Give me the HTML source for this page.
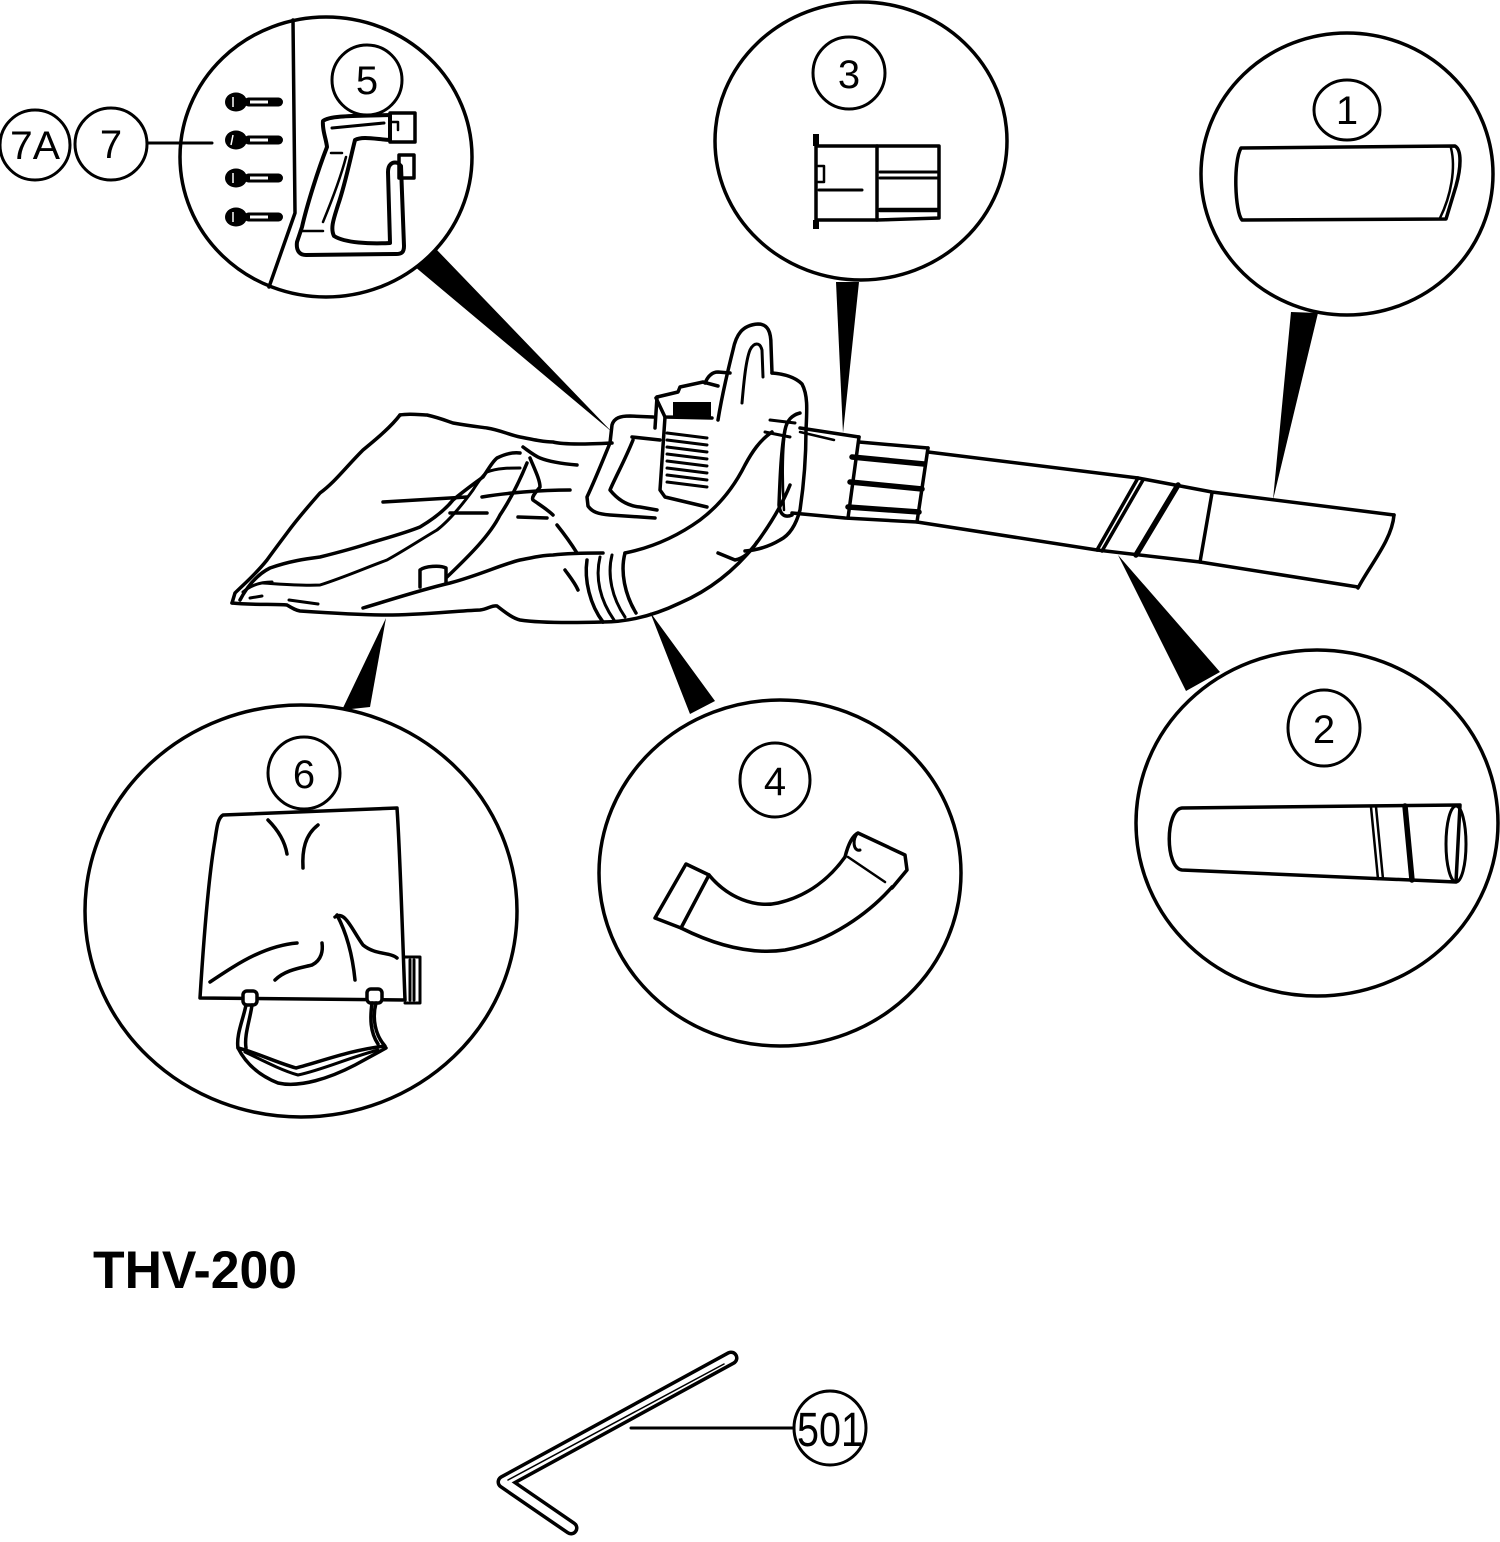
<!DOCTYPE html>
<html><head><meta charset="utf-8"><style>
html,body{margin:0;padding:0;background:#fff;}
svg{display:block;}
text{font-family:"Liberation Sans",Arial,sans-serif;fill:#000;}
</style></head><body>
<svg width="1500" height="1542" viewBox="0 0 1500 1542" xmlns="http://www.w3.org/2000/svg">
<rect width="1500" height="1542" fill="#fff"/>

<!-- pointer wedges -->
<g fill="#000" stroke="none">
<polygon points="414,266 436,249 612,432"/>
<polygon points="836,282 859,282 843,433"/>
<polygon points="1291,312 1318,313 1273,500"/>
<polygon points="1186,691 1220,672 1118,555"/>
<polygon points="690,714 715,701 650,612"/>
<polygon points="342,710 370,707 386,618"/>
</g>

<g fill="none" stroke="#000" stroke-width="3.5" stroke-linejoin="round" stroke-linecap="round">
<!-- big callout circles -->
<ellipse cx="326" cy="157" rx="146" ry="140" fill="#fff"/>
<ellipse cx="861" cy="141" rx="146" ry="139" fill="#fff"/>
<ellipse cx="1347" cy="174" rx="146" ry="141" fill="#fff"/>
<ellipse cx="1317" cy="823" rx="181" ry="173" fill="#fff"/>
<ellipse cx="780" cy="873" rx="181" ry="173" fill="#fff"/>
<ellipse cx="301" cy="911" rx="216" ry="206" fill="#fff"/>

<!-- circle 5 divider -->
<path d="M293,20 L295,213 L269,287"/>

<!-- label circles -->
<g stroke-width="3">
<circle cx="367" cy="80" r="35"/>
<circle cx="35" cy="145" r="35"/>
<circle cx="111" cy="144" r="36"/>
<circle cx="849" cy="73" r="36"/>
<ellipse cx="1347" cy="110" rx="33" ry="30"/>
<ellipse cx="1324" cy="728" rx="36" ry="38"/>
<ellipse cx="775" cy="780" rx="35" ry="37"/>
<circle cx="304" cy="773" r="36"/>
<ellipse cx="830" cy="1428" rx="36" ry="37"/>
</g>
<!-- leader lines -->
<line x1="147" y1="143" x2="212" y2="143" stroke-width="3"/>
<line x1="631" y1="1428" x2="794" y2="1428" stroke-width="3"/>

<!-- gun (part 5) -->
<path d="M323,121 C330,115 360,116 390,115 L390,140 C375,139 362,136 355,140 C350,160 345,185 338,205 C334,218 330,228 334,236 C345,243 370,244 390,243 L388,172 C388,165 392,161 398,163 L401,166 L404,246 C404,252 402,254 396,254 L306,255 C299,255 296,250 297,242 L302,227 C307,205 318,170 327,147 C326,138 322,130 323,121 Z" stroke-width="4"/>
<rect x="390" y="113" width="25" height="29"/>
<rect x="399" y="155" width="15" height="23"/>
<path d="M332,128 L384,123" stroke-width="3"/>
<path d="M346,157 C340,180 330,205 323,222" stroke-width="2.5"/>
<path d="M331,153 L342,153" stroke-width="2.5"/>
<path d="M300,231 L323,231" stroke-width="2.5"/>
<path d="M392,122 L398,122 L398,130" stroke-width="2.5"/>

<!-- part 3 -->
<path d="M816,146 L877,146 L877,220 L816,220 Z"/>
<path d="M877,146 L939,146 L939,218 L877,220"/>
<rect x="813" y="134" width="6" height="12" fill="#000" stroke="none"/>
<rect x="813" y="220" width="6" height="9" fill="#000" stroke="none"/>
<path d="M818,166 L824,166 L824,182 L818,182" stroke-width="2.5"/>
<path d="M819,190 L862,190" stroke-width="3"/>
<path d="M880,172 L938,172 M880,178 L938,178" stroke-width="3"/>
<path d="M880,210 L938,210" stroke-width="4.5"/>

<!-- part 1 -->
<path d="M1241,148 L1455,146 C1462,150 1461,168 1456,186 L1446,219 L1242,220 C1235,212 1233,162 1241,148 Z"/>
<path d="M1451,148 C1456,168 1451,196 1440,218" stroke-width="2.5"/>

<!-- part 2 -->
<path d="M1182,808 L1460,805 L1456,882 L1182,870 C1165,868 1165,810 1182,808 Z"/>
<ellipse cx="1456" cy="844" rx="10" ry="38" stroke-width="3"/>
<path d="M1371,807 L1378,879 M1376,807 L1383,879" stroke-width="2.5"/>
<path d="M1405,806 L1412,880" stroke-width="5.5"/>

<!-- part 4 -->
<path d="M686,864 L709,875 L681,928 L655,918 Z"/>
<path d="M709,875 C728,898 755,908 778,903 C808,896 830,878 845,857"/>
<path d="M681,928 C715,945 750,955 785,950 C830,942 870,912 892,887"/>
<path d="M845,857 C848,845 852,836 858,833 L905,855 L907,870 L892,888"/>
<path d="M858,833 C852,838 853,852 860,850" stroke-width="3"/>
<path d="M848,857 L885,882" stroke-width="2.5"/>

<!-- part 6 bag -->
<path d="M223,815 L397,808 C400,850 403,950 405,1000 L200,998 C203,950 208,880 215,840 C217,826 218,818 223,815 Z"/>
<path d="M405,957 L420,957 L420,1003 L405,1003 M410,960 L410,1000 M414,960 L414,1000" stroke-width="3"/>
<path d="M268,820 C278,830 285,842 287,854"/>
<path d="M318,825 C305,835 302,850 303,868"/>
<path d="M337,915 C345,930 352,950 355,980"/>
<path d="M335,917 C345,910 352,930 363,945 C375,955 390,952 397,958"/>
<path d="M210,982 C225,972 240,962 255,955 C270,948 285,944 297,943"/>
<path d="M275,980 C285,970 300,968 312,965 C322,960 323,950 322,943"/>
<rect x="243" y="991" width="14" height="14" rx="4" fill="#fff"/>
<rect x="367" y="989" width="15" height="14" rx="4" fill="#fff"/>
<path d="M246,1005 C243,1020 236,1035 238,1048 C255,1052 275,1062 296,1068 C320,1062 350,1050 385,1046 C375,1035 372,1018 376,1003"/>
<path d="M252,1005 C250,1020 244,1035 246,1048"/>
<path d="M372,1003 C370,1018 370,1032 378,1044"/>
<path d="M238,1048 C245,1062 258,1075 278,1083 C300,1088 330,1078 355,1065 L386,1048"/>
<path d="M245,1052 C258,1058 280,1070 298,1075 C322,1070 348,1058 378,1050" stroke-width="3"/>

<!-- main assembly: bag -->
<path d="M400,415 C410,413 420,415 427,415 C440,418 447,421 453,423 C470,426 480,427 487,428 C500,430 510,435 520,437 C535,440 545,442 553,442 C565,445 590,444 612,443"/>
<path d="M400,415 C390,428 375,440 363,450 C345,468 335,482 320,493 C305,510 295,522 287,533 C278,545 272,553 267,560 C255,575 243,585 235,593 L232,603"/>
<path d="M232,603 C250,605 275,604 287,605 C292,608 295,610 300,611 C330,613 360,615 387,615 C420,615 455,611 480,610 C488,609 492,605 497,606 C505,612 512,618 520,620 C540,623 570,623 603,622"/>
<path d="M240,600 C248,585 258,574 270,568 C290,561 305,559 320,557 C340,552 355,548 370,543 C390,537 405,533 420,527 C435,518 445,510 453,500 C465,490 475,483 483,477 C488,470 492,462 497,458 C505,454 512,452 520,453"/>
<path d="M263,583 C280,584 300,586 320,585 C345,577 365,568 387,560 C405,550 420,540 437,530 C450,520 462,505 473,490 C478,482 482,476 487,472 C497,468 510,468 520,468" stroke-width="3"/>
<path d="M243,592 C250,586 260,582 272,582 M250,598 L262,596" stroke-width="3"/>
<path d="M289,600 L318,604" stroke-width="3"/>
<path d="M383,502 L467,497"/>
<path d="M450,513 L487,513"/>
<path d="M482,497 C505,493 540,490 570,490"/>
<path d="M523,447 C530,452 535,456 540,458 C550,462 565,464 577,465"/>
<path d="M527,463 C520,480 510,500 500,515 C490,535 470,555 447,577"/>
<path d="M530,458 C535,470 540,480 540,487 C536,492 531,497 533,500 C540,505 548,510 553,515"/>
<path d="M518,517 L547,518"/>
<path d="M557,525 C565,535 572,545 577,553"/>
<path d="M565,570 C570,577 575,583 578,590"/>
<path d="M420,587 L420,570 C425,566 440,565 446,568 L446,583"/>
<path d="M363,608 C390,600 420,590 450,583 C480,575 500,565 520,560 C535,557 545,555 553,555 C570,553 590,553 603,553"/>

<!-- intake tube on assembly -->
<path d="M587,560 C584,580 590,605 603,622"/>
<path d="M600,557 C595,578 600,600 614,620" stroke-width="3"/>
<path d="M612,555 C607,575 612,598 625,617" stroke-width="3"/>
<path d="M625,553 C620,572 625,595 636,613"/>
<path d="M625,553 C650,548 675,538 700,520 C720,505 735,485 745,465 C752,452 760,440 772,432"/>
<path d="M603,622 C630,622 655,615 680,603 C710,590 735,570 755,545 C770,525 782,505 790,485"/>

<!-- control block -->
<path d="M610,443 L612,425 C614,418 620,416 630,416 L653,417"/>
<path d="M610,443 C603,460 595,480 587,497 L588,506 C592,512 598,514 610,515 L655,518"/>
<path d="M632,437 L660,440"/>
<path d="M633,440 C625,460 615,478 610,490 C618,500 628,506 640,507 L657,510"/>

<!-- engine box -->
<path d="M657,397 L678,392 L680,387 L703,382 L718,386"/>
<path d="M657,397 L655,428 M665,417 L660,490 L665,497 L707,507"/>
<path d="M656,398 L665,417 L712,418"/>
<rect x="673" y="402" width="38" height="15" fill="#000" stroke="none"/>
<g stroke-width="3">
<path d="M667,433 L707,438 M667,440 L707,445 M667,447 L707,452 M667,454 L707,459 M667,461 L707,466 M667,468 L707,473 M667,475 L707,480 M667,482 L707,487"/>
</g>

<!-- handle loop -->
<path d="M718,420 C722,395 728,370 733,350 C736,335 742,325 758,324 C768,324 771,332 771,345 L772,373"/>
<path d="M742,403 C744,380 746,360 750,350 C754,342 760,342 762,350 L763,377" stroke-width="3"/>
<path d="M705,383 C708,376 712,372 718,372 L730,373"/>

<!-- housing / volute -->
<path d="M772,373 C785,374 795,377 802,384 C808,395 807,410 806,430 C806,460 803,490 800,510 C796,525 790,535 780,540 C770,546 758,550 745,551"/>
<path d="M800,413 C792,415 787,420 785,430 C781,450 780,480 779,505 C780,515 785,518 792,515"/>
<path d="M787,422 C782,440 782,480 784,510" stroke-width="2.5"/>
<path d="M718,553 L735,560 C745,558 752,550 757,542"/>
<path d="M770,420 L795,423 M765,432 L790,437" stroke-width="3"/>

<!-- blower tube -->
<path d="M800,428 L859,437"/>
<path d="M859,442 L928,448"/>
<path d="M928,452 L1138,478 L1212,492 L1394,515"/>
<path d="M792,513 L845,518 L917,522 L1097,550 L1200,562 L1358,587"/>
<path d="M1394,515 C1392,540 1370,565 1358,588"/>
<path d="M859,437 L848,518"/>
<path d="M928,448 L917,522"/>
<path d="M800,432 L834,440" stroke-width="2.5"/>
<g stroke-width="5.5">
<path d="M852,457 L924,464"/>
<path d="M850,482 L922,489"/>
<path d="M848,507 L919,512"/>
<path d="M1178,485 L1136,555"/>
</g>
<path d="M1138,478 L1097,550 M1143,480 L1102,551" stroke-width="3.5"/>
<path d="M1212,493 L1200,562"/>

<!-- wrench 501 -->
<polyline points="731,1358 504,1482 571,1528" stroke-width="15" stroke-linecap="round"/>
<polyline points="731,1358 504,1482 571,1528" stroke="#fff" stroke-width="8" stroke-linecap="round"/>
<path d="M724,1364 L508,1480" stroke-width="1.5"/>
</g>

<!-- screws -->
<g>
<g transform="translate(0,102)">
<ellipse cx="236" cy="0" rx="11" ry="9.5"/>
<rect x="244" y="-4.5" width="39" height="9" rx="4.5"/>
<path d="M233,-5 L233,5" stroke="#fff" stroke-width="1.5"/>
<rect x="250" y="-1.5" width="18" height="3" fill="#fff"/>
</g>
<g transform="translate(0,140)">
<ellipse cx="236" cy="0" rx="11" ry="9.5"/>
<rect x="244" y="-4.5" width="39" height="9" rx="4.5"/>
<path d="M233,-5 L231,5" stroke="#fff" stroke-width="1.5"/>
<rect x="250" y="-1.5" width="18" height="3" fill="#fff"/>
</g>
<g transform="translate(0,178)">
<ellipse cx="236" cy="0" rx="11" ry="9.5"/>
<rect x="244" y="-4.5" width="39" height="9" rx="4.5"/>
<path d="M233,-5 L233,5" stroke="#fff" stroke-width="1.5"/>
<rect x="250" y="-1.5" width="18" height="3" fill="#fff"/>
</g>
<g transform="translate(0,217)">
<ellipse cx="236" cy="0" rx="11" ry="9.5"/>
<rect x="244" y="-4.5" width="39" height="9" rx="4.5"/>
<path d="M233,-5 L233,5" stroke="#fff" stroke-width="1.5"/>
<rect x="250" y="-1.5" width="18" height="3" fill="#fff"/>
</g>
</g>

<!-- labels -->
<g font-size="40" text-anchor="middle">
<text x="367" y="94">5</text>
<text x="35" y="159" textLength="50" lengthAdjust="spacingAndGlyphs">7A</text>
<text x="111" y="158">7</text>
<text x="849" y="88">3</text>
<text x="1347" y="124">1</text>
<text x="1324" y="743">2</text>
<text x="775" y="795">4</text>
<text x="304" y="788">6</text>
</g>
<text x="830" y="1446" font-size="48" text-anchor="middle" textLength="66" lengthAdjust="spacingAndGlyphs">501</text>
<text x="93" y="1288" font-size="53" font-weight="bold" textLength="204" lengthAdjust="spacingAndGlyphs">THV-200</text>
</svg>
</body></html>
